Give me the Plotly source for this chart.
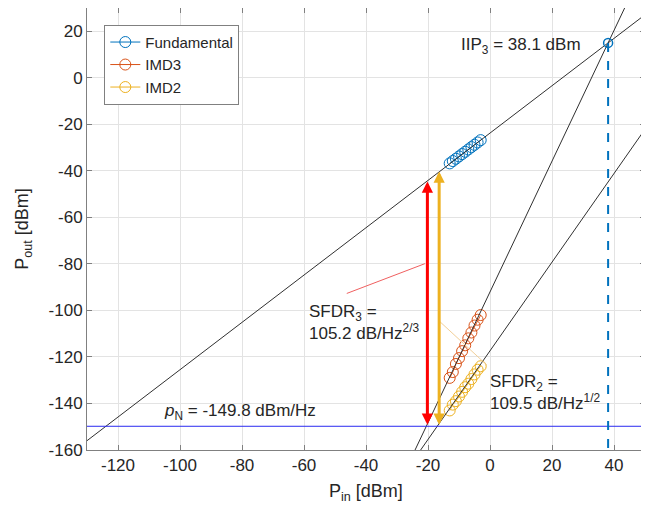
import plotly.graph_objects as go

# ---- data ----
pin = [-13, -12, -11, -10, -9, -8, -7, -6, -5, -4, -3]
fundamental = [-36.8, -35.8, -34.8, -33.8, -32.8, -31.8, -30.8, -29.8, -28.8, -27.8, -26.8]
imd3 = [-129.0, -126.5, -123.0, -120.5, -117.5, -115.0, -112.0, -109.5, -106.5, -104.0, -102.0]
imd2 = [-143.0, -140.5, -139.0, -137.0, -135.0, -133.0, -131.5, -129.5, -127.5, -125.5, -124.0]

fund_fit_x = [-130, 50]
fund_fit_y = [-156.0, 27.1]
imd3_fit_x = [-25, 45]
imd3_fit_y = [-162.3, 34.4]
imd2_fit_x = [-25, 50]
imd2_fit_y = [-165.0, -22.1]

iip3_x = 38.1
iip3_y = 15.0
noise_floor = -149.8
sfdr3 = 105.2
sfdr2 = 109.5
sfdr3_pin = -20.2
sfdr2_pin = -16.4

x_ticks = [-120, -100, -80, -60, -40, -20, 0, 20, 40]
x_ticktext = ["-120", "-100", "-80", "-60", "-40", "-20", "0", "20", "40"]
y_ticks = [-160, -140, -120, -100, -80, -60, -40, -20, 0, 20]
y_ticktext = ["-160", "-140", "-120", "-100", "-80", "-60", "-40", "-20", "0", "20"]

BLUE = "#0072BD"
ORANGE = "#D95319"
YELLOW = "#EDB120"
FONT = "Liberation Sans, Arial, sans-serif"
TXT = "#262626"

fig = go.Figure()

mk = dict(symbol="circle-open", size=11, line=dict(width=1))
fig.add_trace(go.Scatter(x=pin, y=fundamental, mode="lines+markers", name="Fundamental",
                         line=dict(color=BLUE, width=1), marker=dict(color=BLUE, **mk)))
fig.add_trace(go.Scatter(x=pin, y=imd3, mode="lines+markers", name="IMD3",
                         line=dict(color=ORANGE, width=1), marker=dict(color=ORANGE, **mk)))
fig.add_trace(go.Scatter(x=pin, y=imd2, mode="lines+markers", name="IMD2",
                         line=dict(color=YELLOW, width=1), marker=dict(color=YELLOW, **mk)))

# fit lines
for fx, fy in [(fund_fit_x, fund_fit_y), (imd3_fit_x, imd3_fit_y), (imd2_fit_x, imd2_fit_y)]:
    fig.add_trace(go.Scatter(x=fx, y=fy, mode="lines", showlegend=False, hoverinfo="skip",
                             line=dict(color="#303030", width=1)))

# noise floor
fig.add_trace(go.Scatter(x=[-130, 50], y=[noise_floor, noise_floor], mode="lines", showlegend=False,
                         line=dict(color="#2a2af0", width=1)))

# IIP3 dashed line + marker
fig.add_trace(go.Scatter(x=[iip3_x, iip3_x], y=[iip3_y, -160], mode="lines", showlegend=False,
                         line=dict(color=BLUE, width=2, dash="dash")))
fig.add_trace(go.Scatter(x=[iip3_x], y=[iip3_y], mode="markers", showlegend=False,
                         marker=dict(color=BLUE, symbol="circle-open", size=9, line=dict(width=1.5))))

# leader lines
fig.add_trace(go.Scatter(x=[-46.2, -21.0], y=[-92.7, -79.9], mode="lines", showlegend=False,
                         line=dict(color="#f06060", width=1)))
fig.add_trace(go.Scatter(x=[-16.1, -1.0], y=[-104.9, -123.5], mode="lines", showlegend=False,
                         line=dict(color="#f2cf98", width=1)))

annotations = []
# SFDR arrows (double-headed)
for xp, top, col in [(sfdr3_pin, noise_floor + sfdr3, "#ff0000"), (sfdr2_pin, noise_floor + sfdr2, YELLOW)]:
    annotations.append(dict(x=xp, y=top, ax=xp, ay=noise_floor, xref="x", yref="y",
                            axref="x", ayref="y", text="", showarrow=True,
                            arrowhead=2, arrowsize=0.75, arrowwidth=3, arrowcolor=col,
                            arrowside="end+start", standoff=0, startstandoff=0))

tf = dict(family=FONT, size=17, color=TXT)
annotations += [
    dict(x=30.0, y=13.8, xref="x", yref="y", text="IIP<sub>3</sub> = 38.1 dBm", showarrow=False,
         xanchor="right", yanchor="middle", font=tf),
    dict(x=-59.0, y=-105.1, xref="x", yref="y", text="SFDR<sub>3</sub> =<br>105.2 dB/Hz<sup>2/3</sup>",
         showarrow=False, xanchor="left", yanchor="middle", align="left", font=tf),
    dict(x=-0.6, y=-135.3, xref="x", yref="y", text="SFDR<sub>2</sub> =<br>109.5 dB/Hz<sup>1/2</sup>",
         showarrow=False, xanchor="left", yanchor="middle", align="left", font=tf),
    dict(x=-105.8, y=-143.7, xref="x", yref="y", text="<i>p</i><sub>N</sub> = -149.8 dBm/Hz",
         showarrow=False, xanchor="left", yanchor="middle", font=tf),
    # axis titles
    dict(x=0.5, y=-0.097, xref="paper", yref="paper", text="P<sub>in</sub> [dBm]", showarrow=False,
         xanchor="center", yanchor="middle", font=dict(family=FONT, size=18, color=TXT)),
    dict(x=-0.115, y=0.5, xref="paper", yref="paper", text="P<sub>out</sub> [dBm]", showarrow=False,
         xanchor="center", yanchor="middle", textangle=-90, font=dict(family=FONT, size=18, color=TXT)),
]

axis_common = dict(showgrid=True, gridcolor="#e3e3e3", gridwidth=1, zeroline=False,
                   showline=True, linecolor="#808080", linewidth=1, mirror="ticks",
                   ticks="inside", ticklen=5, tickcolor="#808080", automargin=False,
                   tickfont=dict(family=FONT, size=17, color=TXT))

# the page body adds an 8 px offset, so the figure is 8 px smaller and margins compensate
fig.update_layout(
    width=641, height=505,
    margin=dict(l=79, r=4, t=0, b=63),
    paper_bgcolor="white", plot_bgcolor="white",
    xaxis=dict(range=[-130, 50], tickvals=x_ticks, ticktext=x_ticktext, **axis_common),
    yaxis=dict(range=[-160, 30], tickvals=y_ticks, ticktext=y_ticktext, **axis_common),
    legend=dict(x=0.031, y=0.962, xanchor="left", yanchor="top",
                bgcolor="white", bordercolor="#808080", borderwidth=1,
                font=dict(family=FONT, size=15, color=TXT), tracegroupgap=0),
    annotations=annotations,
    showlegend=True,
)

fig.write_html("out.html")
